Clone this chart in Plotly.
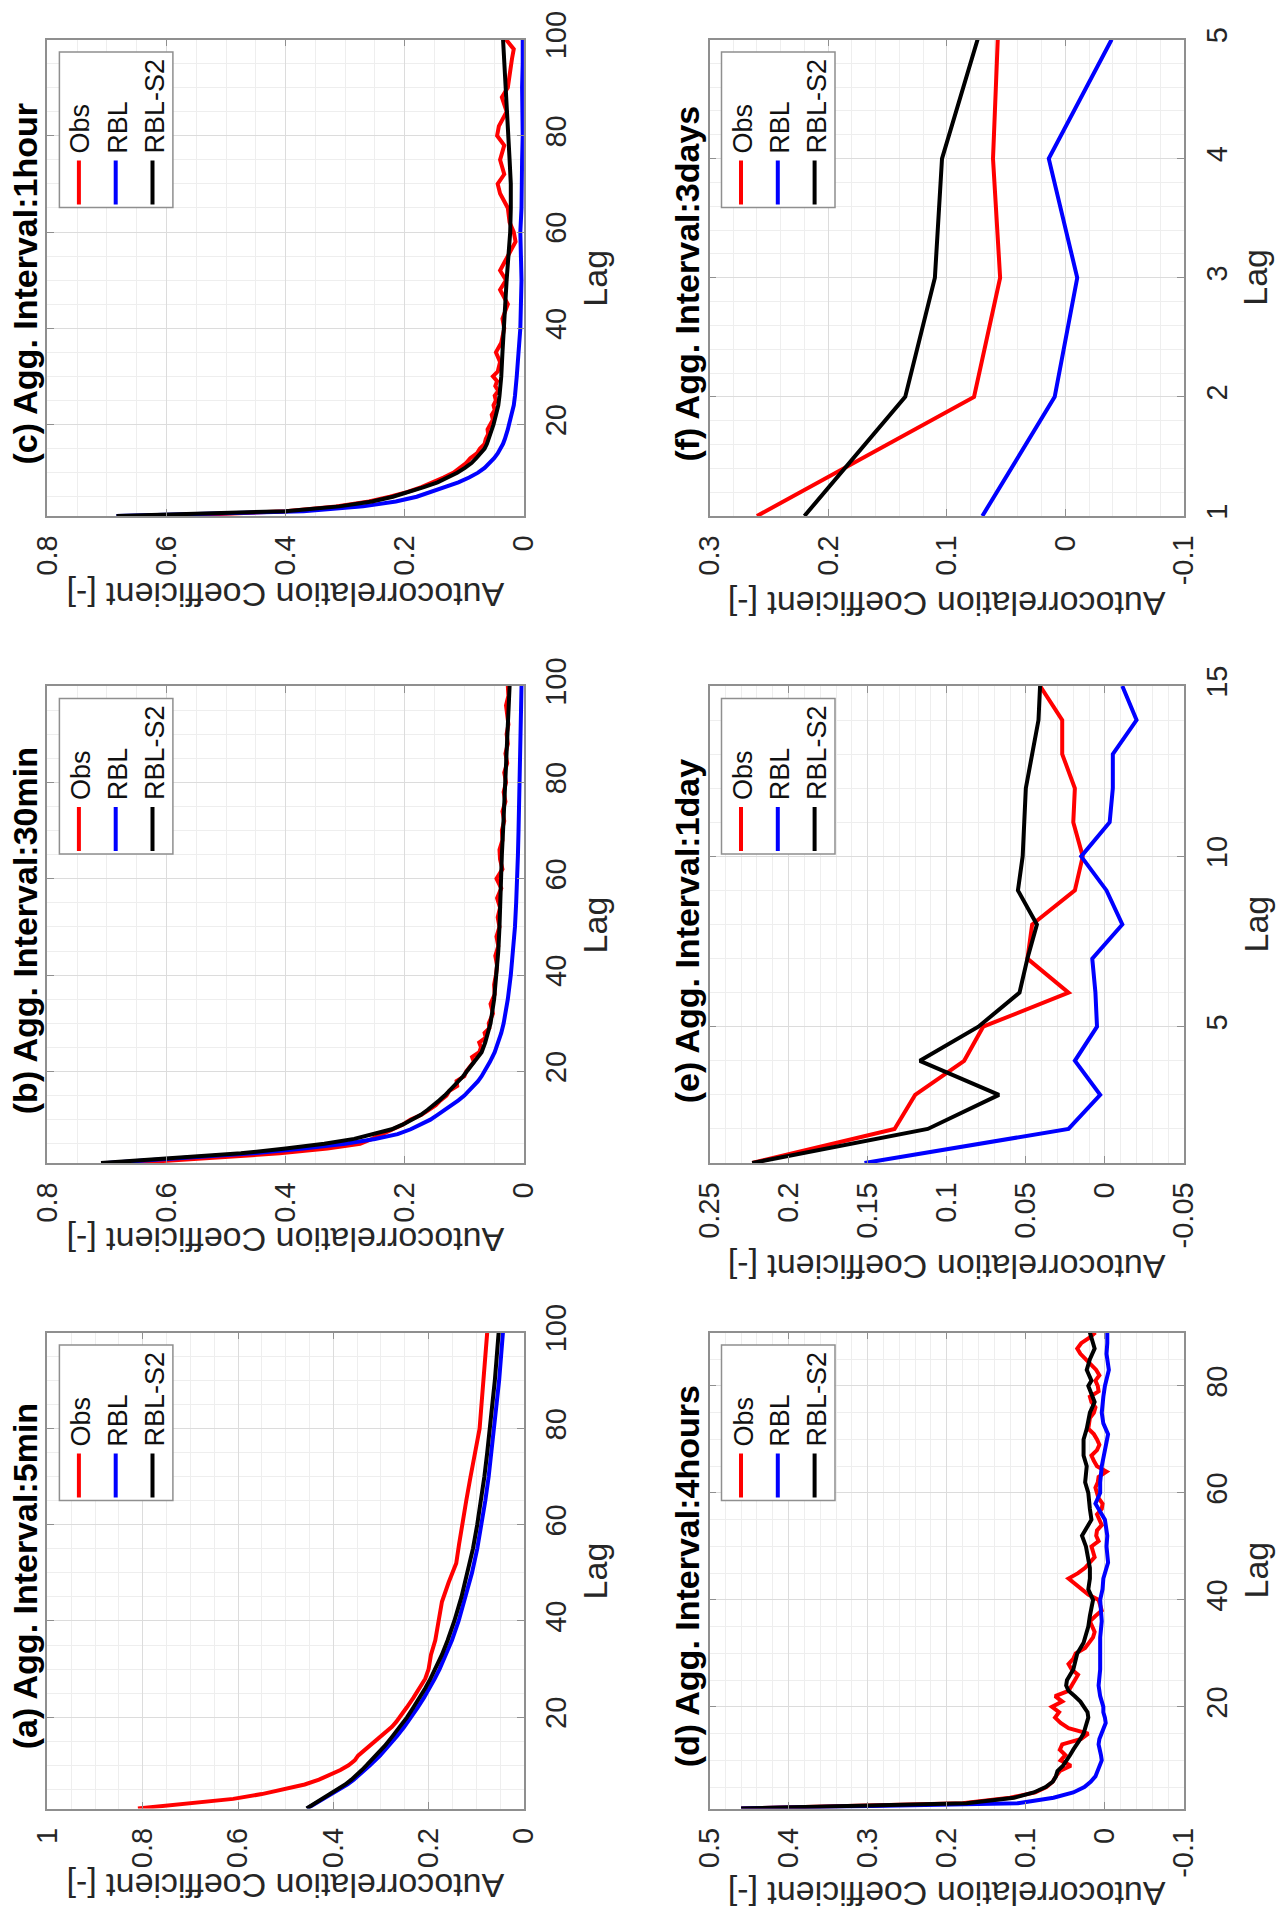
import plotly.graph_objects as go

W, H = 1281, 1923
FONT = "Liberation Sans, Arial, sans-serif"

# ---------------- data: autocorrelation coefficient vs. lag ----------------
# (a) 5 min aggregation
A_OBS_LAG = list(range(1, 21)) + [22, 24, 26, 28, 30, 33, 36, 40, 44, 48, 50, 52, 56, 60,
                                  65, 70, 75, 80, 85, 90, 95, 100]
A_OBS = [0.81, 0.70, 0.61, 0.55, 0.50, 0.46, 0.43, 0.405, 0.385, 0.368, 0.355, 0.348, 0.336,
         0.322, 0.31, 0.298, 0.287, 0.277, 0.268, 0.26, 0.246, 0.232, 0.22, 0.207, 0.2,
         0.195, 0.186, 0.18, 0.172, 0.158, 0.15, 0.142, 0.136, 0.13, 0.121, 0.112, 0.103,
         0.093, 0.089, 0.085, 0.079, 0.077]
A_MOD_LAG = list(range(1, 11)) + [12, 14, 16, 18, 20, 22, 24, 26, 28, 30, 33, 36, 40, 45, 50,
                                  55, 60, 65, 70, 75, 80, 85, 90, 95, 100]
A_RBL = [0.455, 0.438, 0.42, 0.402, 0.386, 0.37, 0.357, 0.345, 0.334, 0.323, 0.302, 0.284,
         0.267, 0.251, 0.236, 0.223, 0.21, 0.198, 0.187, 0.177, 0.163, 0.151, 0.137, 0.122,
         0.109, 0.098, 0.089, 0.081, 0.074, 0.068, 0.062, 0.057, 0.052, 0.048, 0.044]
A_S2 = [0.456, 0.44, 0.423, 0.405, 0.39, 0.375, 0.362, 0.35, 0.34, 0.33, 0.31, 0.292, 0.276,
        0.26, 0.245, 0.232, 0.219, 0.207, 0.196, 0.186, 0.172, 0.16, 0.146, 0.131, 0.118,
        0.107, 0.098, 0.09, 0.083, 0.077, 0.071, 0.066, 0.061, 0.057, 0.053]

# (b) 30 min aggregation
B_OBS_LAG = list(range(1, 31)) + list(range(32, 101, 2))
B_OBS = [0.657, 0.52, 0.41, 0.33, 0.275, 0.255, 0.238, 0.22, 0.203, 0.19, 0.172, 0.16, 0.148,
         0.14, 0.13, 0.125, 0.112, 0.113, 0.1, 0.097, 0.09, 0.084, 0.087, 0.075, 0.072, 0.075,
         0.064, 0.066, 0.058, 0.059,
         0.052, 0.056, 0.049, 0.05, 0.047, 0.045, 0.048, 0.043, 0.046, 0.041, 0.044, 0.04,
         0.045, 0.038, 0.046, 0.036, 0.04, 0.041, 0.036, 0.037, 0.033, 0.036, 0.031, 0.034,
         0.03, 0.033, 0.028, 0.031, 0.027, 0.029, 0.026, 0.028, 0.03, 0.026, 0.027]
B_MOD_LAG = list(range(1, 21)) + [22, 24, 26, 28, 30, 35, 40, 45, 50, 55, 60, 65, 70, 75, 80,
                                  85, 90, 95, 100]
B_RBL = [0.70, 0.565, 0.455, 0.37, 0.30, 0.25, 0.212, 0.19, 0.172, 0.157, 0.145, 0.133, 0.12,
         0.11, 0.1, 0.092, 0.084, 0.077, 0.071, 0.066, 0.057, 0.049, 0.043, 0.038, 0.034,
         0.027, 0.022, 0.018, 0.015, 0.013, 0.011, 0.01, 0.009, 0.008, 0.007, 0.006, 0.005,
         0.005, 0.004]
B_S2 = [0.71, 0.58, 0.475, 0.40, 0.335, 0.285, 0.25, 0.222, 0.203, 0.187, 0.173, 0.162, 0.151,
        0.142, 0.133, 0.125, 0.117, 0.109, 0.102, 0.096, 0.083, 0.071, 0.065, 0.06, 0.056,
        0.05, 0.046, 0.043, 0.041, 0.04, 0.039, 0.037, 0.035, 0.033, 0.031, 0.029, 0.027,
        0.025, 0.024]

# (c) 1 hour aggregation
C_OBS_LAG = list(range(1, 32)) + [33, 35, 37, 40, 42, 45, 48, 50, 52, 55, 58, 60, 62, 65, 68,
                                  70, 72, 75, 78, 80, 82, 85, 88, 90, 93, 96, 98, 100]
C_OBS = [0.588, 0.40, 0.315, 0.26, 0.225, 0.195, 0.172, 0.152, 0.135, 0.118, 0.108, 0.097,
         0.09, 0.079, 0.074, 0.066, 0.064, 0.06, 0.061, 0.057, 0.052, 0.054, 0.049, 0.051,
         0.047, 0.049, 0.043, 0.048, 0.045, 0.052, 0.044,
         0.040, 0.047, 0.038, 0.033, 0.036, 0.027, 0.040, 0.030, 0.040, 0.027, 0.014, 0.017,
         0.024, 0.027, 0.040, 0.044, 0.033, 0.040, 0.033, 0.045, 0.042, 0.029, 0.037, 0.027,
         0.024, 0.020, 0.017, 0.030]
C_MOD_LAG = B_MOD_LAG
C_RBL = [0.684, 0.37, 0.27, 0.215, 0.18, 0.155, 0.13, 0.11, 0.092, 0.077, 0.066, 0.057, 0.05,
         0.044, 0.039, 0.035, 0.032, 0.029, 0.027, 0.025, 0.021, 0.017, 0.015, 0.013, 0.012,
         0.009, 0.006, 0.005, 0.004, 0.005, 0.006, 0.004, 0.004, 0.003, 0.002, 0.003, 0.003,
         0.002, 0.002]
C_S2 = [0.684, 0.40, 0.31, 0.255, 0.22, 0.192, 0.168, 0.145, 0.127, 0.112, 0.099, 0.088, 0.08,
        0.073, 0.066, 0.062, 0.059, 0.056, 0.053, 0.051, 0.047, 0.043, 0.041, 0.039, 0.038,
        0.036, 0.034, 0.032, 0.029, 0.026, 0.023, 0.022, 0.022, 0.024, 0.026, 0.028, 0.03,
        0.033, 0.035]

# (d) 4 hours aggregation
D_OBS_LAG = list(range(1, 91))
D_OBS = [0.46, 0.18, 0.12, 0.088, 0.074, 0.066, 0.062, 0.057, 0.043, 0.056, 0.05, 0.057, 0.054,
         0.030, 0.021, 0.046, 0.056, 0.063, 0.058, 0.067, 0.054, 0.063, 0.046,
         0.042, 0.038, 0.034, 0.042, 0.046, 0.04, 0.037, 0.025, 0.02, 0.015,
         0.013, 0.016, 0.019, 0.012, 0.004, 0.006, 0.008, 0.021, 0.03, 0.037,
         0.046, 0.034, 0.025, 0.019, 0.013, 0.015, 0.017, 0.008, 0.011, 0.01,
         0.004, 0.007, 0.01, 0.004, 0.003, 0.008, 0.01, 0.012, 0.009, 0.008,
         -0.002, 0.01, 0.014, 0.017, 0.01, 0.007, 0.01, 0.014, 0.021, 0.02,
         0.019, 0.014, 0.012, 0.017, 0.019, 0.008, 0.009, 0.012, 0.007, 0.011,
         0.018, 0.025, 0.031, 0.035, 0.03, 0.02, 0.012]
D_RBL_LAG = list(range(1, 21)) + [22, 24, 27, 30, 33, 36, 40, 42, 44, 47, 50, 52, 55, 57, 58,
                                  60, 62, 65, 68, 70, 71, 73, 75, 78, 80, 83, 86, 88, 90]
D_RBL = [0.46, 0.11, 0.065, 0.04, 0.026, 0.018, 0.012, 0.009, 0.006, 0.004, 0.005, 0.007,
         0.008, 0.007, 0.004, 0.001, -0.001, 0.0, 0.002, 0.002,
         0.006, 0.008, 0.006, 0.006, 0.006, 0.004, 0.006, 0.003, 0.002, -0.004, -0.002,
         -0.003, 0.0, 0.008, 0.012, 0.006, 0.006, 0.004, 0.0, -0.003, -0.004, 0.002, 0.004,
         0.002, 0.0, -0.005, -0.002, -0.003, -0.003]
D_S2_LAG = list(range(1, 26)) + [27, 30, 32, 35, 37, 40, 42, 44, 46, 48, 50, 52, 55, 57, 60,
                                 62, 65, 67, 70, 72, 75, 77, 80, 81, 83, 85, 87, 89, 90]
D_S2 = [0.46, 0.175, 0.115, 0.09, 0.075, 0.066, 0.062, 0.06, 0.053, 0.048, 0.044, 0.04, 0.035,
        0.031, 0.027, 0.025, 0.023, 0.021, 0.022, 0.026, 0.031, 0.038, 0.046, 0.049, 0.048,
        0.040, 0.035, 0.027, 0.021, 0.019, 0.015, 0.021, 0.019, 0.019, 0.021, 0.024, 0.029,
        0.017, 0.019, 0.021, 0.025, 0.023, 0.027, 0.027, 0.023, 0.019, 0.013, 0.021, 0.017,
        0.023, 0.019, 0.013, 0.017, 0.019]

# (e) 1 day aggregation
E_LAG = list(range(1, 16))
E_OBS = [0.223, 0.133, 0.12, 0.089, 0.077, 0.023, 0.049, 0.046, 0.019, 0.014, 0.02, 0.019,
         0.027, 0.027, 0.041]
E_RBL = [0.152, 0.023, 0.003, 0.019, 0.005, 0.006, 0.008, -0.011, -0.001, 0.015, -0.003,
         -0.005, -0.005, -0.020, -0.011]
E_S2 = [0.223, 0.112, 0.067, 0.117, 0.080, 0.054, 0.049, 0.043, 0.055, 0.052, 0.051, 0.050,
        0.046, 0.042, 0.041]

# (f) 3 days aggregation
F_LAG = [1, 2, 3, 4, 5]
F_OBS = [0.26, 0.077, 0.055, 0.061, 0.057]
F_RBL = [0.07, 0.009, -0.01, 0.014, -0.039]
F_S2 = [0.22, 0.135, 0.11, 0.104, 0.074]

SERIES_NAMES = ["Obs", "RBL", "RBL-S2"]
SERIES_COLORS = ["#ff0000", "#0000ff", "#000000"]

# tick values
TICKS_AC_A = [0, 0.2, 0.4, 0.6, 0.8, 1]
TICKS_AC_BC = [0, 0.2, 0.4, 0.6, 0.8]
TICKS_AC_D = [-0.1, 0, 0.1, 0.2, 0.3, 0.4, 0.5]
TICKS_AC_E = [-0.05, 0, 0.05, 0.1, 0.15, 0.2, 0.25]
TICKS_AC_F = [-0.1, 0, 0.1, 0.2, 0.3]
TICKS_LAG_100 = [20, 40, 60, 80, 100]
TICKS_LAG_90 = [20, 40, 60, 80]
TICKS_LAG_15 = [5, 10, 15]
TICKS_LAG_5 = [1, 2, 3, 4, 5]


def fmt(v):
    # plain ASCII hyphen for negatives, no trailing zeros
    return "%g" % v


# ---------------- layout geometry (pixels) ----------------
COLS = {"L": (47.4, 523.9), "R": (709.5, 1184.0)}
ROWS = {1: (39.5, 516.0), 2: (686.0, 1163.0), 3: (1332.5, 1808.5)}

PANELS = [
    dict(title="(a) Agg. Interval:5min", col="L", row=3,
         series=[(A_OBS_LAG, A_OBS), (A_MOD_LAG, A_RBL), (A_MOD_LAG, A_S2)],
         ac_range=(0, 1), ac_ticks=TICKS_AC_A, ac_minor=0.05,
         lag_range=(1, 100), lag_ticks=TICKS_LAG_100, lag_minor=5, lab_off=78),
    dict(title="(b) Agg. Interval:30min", col="L", row=2,
         series=[(B_OBS_LAG, B_OBS), (B_MOD_LAG, B_RBL), (B_MOD_LAG, B_S2)],
         ac_range=(0, 0.8), ac_ticks=TICKS_AC_BC, ac_minor=0.05,
         lag_range=(1, 100), lag_ticks=TICKS_LAG_100, lag_minor=5, lab_off=77),
    dict(title="(c) Agg. Interval:1hour", col="L", row=1,
         series=[(C_OBS_LAG, C_OBS), (C_MOD_LAG, C_RBL), (C_MOD_LAG, C_S2)],
         ac_range=(0, 0.8), ac_ticks=TICKS_AC_BC, ac_minor=0.05,
         lag_range=(1, 100), lag_ticks=TICKS_LAG_100, lag_minor=5, lab_off=79),
    dict(title="(d) Agg. Interval:4hours", col="R", row=3,
         series=[(D_OBS_LAG, D_OBS), (D_RBL_LAG, D_RBL), (D_S2_LAG, D_S2)],
         ac_range=(-0.1, 0.5), ac_ticks=TICKS_AC_D, ac_minor=0.02,
         lag_range=(1, 90), lag_ticks=TICKS_LAG_90, lag_minor=5, lab_off=86),
    dict(title="(e) Agg. Interval:1day", col="R", row=2,
         series=[(E_LAG, E_OBS), (E_LAG, E_RBL), (E_LAG, E_S2)],
         ac_range=(-0.05, 0.25), ac_ticks=TICKS_AC_E, ac_minor=0.01,
         lag_range=(1, 15), lag_ticks=TICKS_LAG_15, lag_minor=1, lab_off=104),
    dict(title="(f) Agg. Interval:3days", col="R", row=1,
         series=[(F_LAG, F_OBS), (F_LAG, F_RBL), (F_LAG, F_S2)],
         ac_range=(-0.1, 0.3), ac_ticks=TICKS_AC_F, ac_minor=0.02,
         lag_range=(1, 5), lag_ticks=TICKS_LAG_5, lag_minor=0.2, lab_off=88),
]

GRID = "#dcdcdc"
GRID_MINOR = "#eeeeee"
BOX = "#8f8f8f"
TXT = "#262626"


def px(x):
    return x / W


def py(y):
    return 1 - y / H


fig = go.Figure()
layout = dict(width=W, height=H, margin=dict(l=0, r=0, t=0, b=0, pad=0, autoexpand=False),
              paper_bgcolor="white", plot_bgcolor="white", showlegend=False,
              font=dict(family=FONT, color=TXT))
annotations = []
shapes = []

for i, p in enumerate(PANELS, start=1):
    l, r = COLS[p["col"]]
    t, b = ROWS[p["row"]]
    sfx = "" if i == 1 else str(i)
    xa, ya = "x" + sfx, "y" + sfx

    for (lags, vals), name, color in zip(p["series"], SERIES_NAMES, SERIES_COLORS):
        fig.add_trace(go.Scatter(x=vals, y=lags, mode="lines", name=name,
                                 line=dict(color=color, width=4),
                                 xaxis=xa, yaxis=ya, hoverinfo="skip"))

    lo, hi = p["ac_range"]
    layout["xaxis" + sfx] = dict(
        domain=[px(l), px(r)], anchor=ya, range=[hi, lo], side="bottom",
        tickvals=p["ac_ticks"], ticktext=[fmt(v) for v in p["ac_ticks"]],
        tickangle=-90, tickfont=dict(size=29, color=TXT, family=FONT),
        ticks="inside", ticklen=7, tickcolor=BOX, tickwidth=1,
        showline=True, linecolor=BOX, linewidth=1.5, mirror="ticks",
        showgrid=True, gridcolor=GRID, gridwidth=1, zeroline=False,
        minor=dict(dtick=p["ac_minor"], tick0=0, showgrid=True,
                   gridcolor=GRID_MINOR, gridwidth=1),
        ticklabelstandoff=6, automargin=False, fixedrange=True,
    )
    llo, lhi = p["lag_range"]
    layout["yaxis" + sfx] = dict(
        domain=[py(b), py(t)], anchor=xa, range=[llo, lhi], side="right",
        tickvals=p["lag_ticks"], ticktext=[fmt(v) for v in p["lag_ticks"]],
        tickangle=-90, tickfont=dict(size=29, color=TXT, family=FONT),
        ticks="inside", ticklen=7, tickcolor=BOX, tickwidth=1,
        showline=True, linecolor=BOX, linewidth=1.5, mirror="ticks",
        showgrid=True, gridcolor=GRID, gridwidth=1, zeroline=False,
        minor=dict(dtick=p["lag_minor"], tick0=0, showgrid=True,
                   gridcolor=GRID_MINOR, gridwidth=1),
        ticklabelstandoff=6, automargin=False, fixedrange=True,
    )

    cx, cy = (l + r) / 2, (t + b) / 2
    # panel title (bold, left of the axes)
    annotations.append(dict(text="<b>%s</b>" % p["title"], x=px(l - 22.7), y=py(cy + 6),
                            xref="paper", yref="paper", showarrow=False, textangle=-90,
                            xanchor="center", yanchor="middle",
                            font=dict(size=34, color="#000000", family=FONT)))
    # axis labels
    annotations.append(dict(text="Autocorrelation Coefficient [-]", x=px(cx),
                            y=py(b + p["lab_off"]), xref="paper", yref="paper",
                            showarrow=False, textangle=180, xanchor="center",
                            yanchor="middle", font=dict(size=34, color=TXT, family=FONT)))
    annotations.append(dict(text="Lag", x=px(r + 71), y=py(cy), xref="paper", yref="paper",
                            showarrow=False, textangle=-90, xanchor="center",
                            yanchor="middle", font=dict(size=34, color=TXT, family=FONT)))

    # legend box with vertical line samples and rotated labels
    shapes.append(dict(type="rect", xref="paper", yref="paper",
                       x0=px(l + 12), x1=px(l + 125.5), y0=py(t + 168), y1=py(t + 12.5),
                       line=dict(color=BOX, width=1.5), fillcolor="white", layer="above"))
    for k, (name, color) in enumerate(zip(SERIES_NAMES, SERIES_COLORS)):
        sx = l + 31.5 + k * 36.8
        shapes.append(dict(type="line", xref="paper", yref="paper",
                           x0=px(sx), x1=px(sx), y0=py(t + 165), y1=py(t + 121),
                           line=dict(color=color, width=4), layer="above"))
        annotations.append(dict(text=name, x=px(sx + 2), y=py(t + 116),
                                xref="paper", yref="paper", showarrow=False,
                                textangle=-90, xanchor="center", yanchor="bottom",
                                font=dict(size=27, color="#111111", family=FONT)))

layout["annotations"] = annotations
layout["shapes"] = shapes
fig.update_layout(**layout)

fig.write_html("out.html")
